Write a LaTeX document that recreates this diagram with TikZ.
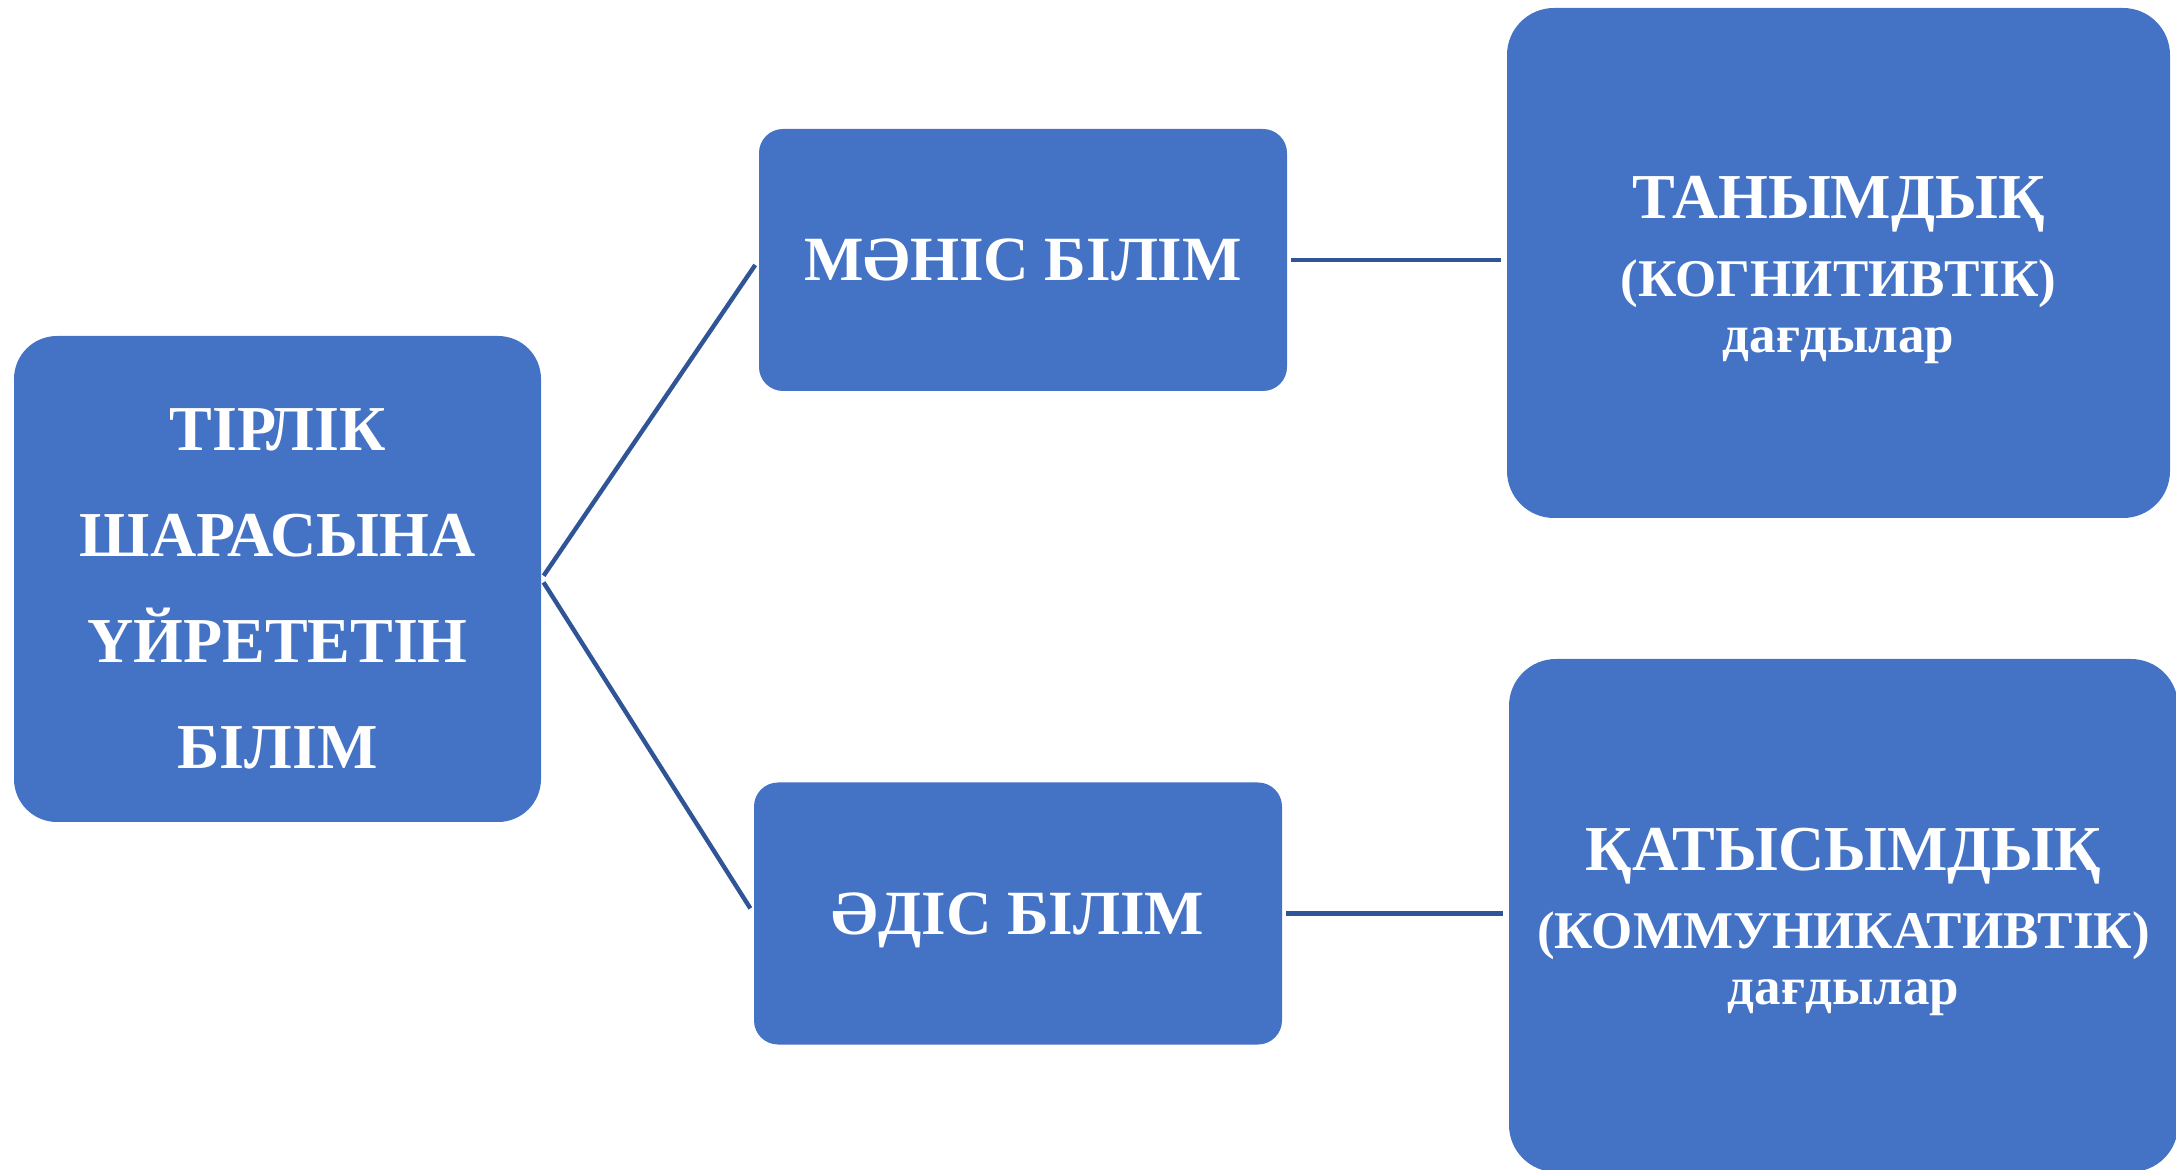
\documentclass[tikz,border=0pt]{standalone}
\usepackage{fontspec}
\setmainfont{Liberation Serif}
\usepackage{tikz}
\definecolor{boxblue}{RGB}{68,114,196}
\definecolor{lineblue}{RGB}{47,85,151}

\begin{document}
\begin{tikzpicture}[x=0.5pt,y=-0.5pt,
    box/.style={fill=boxblue,draw=none,text=white,inner sep=0pt,align=center,font=\bfseries},
    bigbox/.style={box,minimum width=263.5pt,minimum height=243pt,rounded corners=21.5pt,
      font=\bfseries\fontsize{32}{53}\selectfont},
    midbox/.style={box,minimum width=264pt,minimum height=131pt,rounded corners=12pt,text depth=0pt,
      font=\bfseries\fontsize{31.5}{38}\selectfont},
    sidebox/.style={box,minimum height=255pt,rounded corners=23.5pt,
      font=\bfseries\fontsize{32}{39}\selectfont},
    link/.style={draw=lineblue,line width=2.2pt,shorten <=2pt,shorten >=3pt}]
  \useasboundingbox (0,0) rectangle (2176,1170);
  \node[bigbox] (tirlik) at (277.5,579) {\rule{0pt}{31pt}ТІРЛІК\\ШАРАСЫНА\\ҮЙРЕТЕТІН\\БІЛІМ};
  \node[midbox] (manis) at (1023,260) {МӘНІС БІЛІМ};
  \node[midbox] (adis) at (1018,913.5) {ӘДІС БІЛІМ};
  \node[sidebox,minimum width=331.5pt] (tanym) at (1838.5,263) {\rule{0pt}{28pt}ТАНЫМДЫҚ\\{\fontsize{26.5}{39}\selectfont(КОГНИТИВТІК)}\\[-11pt]{\fontsize{26.5}{25}\selectfont дағдылар}};
  \node[sidebox,minimum width=334.5pt,minimum height=256.5pt] (katys) at (1843.5,915.5) {\rule{0pt}{28pt}ҚАТЫСЫМДЫҚ\\{\fontsize{26.5}{39}\selectfont(КОММУНИКАТИВТІК)}\\[-11pt]{\fontsize{26.5}{25}\selectfont дағдылар}};
  \draw[link] (tirlik.east) -- (manis.west);
  \draw[link] (tirlik.east) -- (adis.west);
  \draw[link] (manis.east) -- (manis.east -| tanym.west);
  \draw[link] (adis.east) -- (adis.east -| katys.west);
\end{tikzpicture}
\end{document}
